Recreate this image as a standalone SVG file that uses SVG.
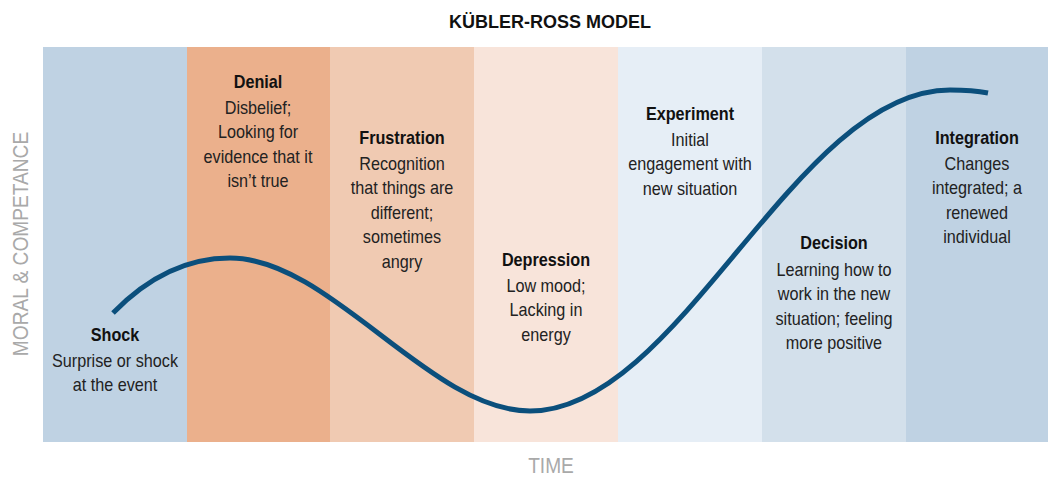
<svg xmlns="http://www.w3.org/2000/svg" width="1060" height="483" viewBox="0 0 1060 483">
<style>
text{font-family:"Liberation Sans",Arial,sans-serif;text-anchor:middle}
.h{font-weight:bold;font-size:18px;fill:#111}
.b{font-size:18px;fill:#222}
.ax{font-size:22px;fill:#a9a9a9}
.curve{fill:none;stroke:#0b4f7c;stroke-width:5;stroke-linecap:butt}
</style>
<rect width="1060" height="483" fill="#fff"/>
<text x="550" y="28" class="h">KÜBLER-ROSS MODEL</text>
<g id="bands">
<rect x="43" y="47" width="144" height="395" fill="#bfd2e3"/>
<rect x="187" y="47" width="143" height="395" fill="#ebb08c"/>
<rect x="330" y="47" width="144" height="395" fill="#f0cab2"/>
<rect x="474" y="47" width="144" height="395" fill="#f8e4da"/>
<rect x="618" y="47" width="144" height="395" fill="#e6eef6"/>
<rect x="762" y="47" width="144" height="395" fill="#d3e0eb"/>
<rect x="906" y="47" width="142" height="395" fill="#bfd2e3"/>
</g>
<g id="connectors">
<path class="curve" d="M113,313 C150,275 190,258 230,258 C330,258 430,411 530,411 C680,411 795,90 950,90 C968,90 978,91 988,93"/>
</g>
<g id="shock" transform="translate(115 0) scale(0.9 1)">
<text y="341" class="h">Shock</text>
<text class="b"><tspan x="0" y="367">Surprise or shock</tspan><tspan x="0" y="391">at the event</tspan></text>
</g>
<g id="denial" transform="translate(258 0) scale(0.9 1)">
<text y="88" class="h">Denial</text>
<text class="b"><tspan x="0" y="114">Disbelief;</tspan><tspan x="0" y="138.5">Looking for</tspan><tspan x="0" y="163">evidence that it</tspan><tspan x="0" y="187.5">isn’t true</tspan></text>
</g>
<g id="frustration" transform="translate(402 0) scale(0.9 1)">
<text y="144" class="h">Frustration</text>
<text class="b"><tspan x="0" y="170">Recognition</tspan><tspan x="0" y="194.5">that things are</tspan><tspan x="0" y="219">different;</tspan><tspan x="0" y="243.5">sometimes</tspan><tspan x="0" y="268">angry</tspan></text>
</g>
<g id="depression" transform="translate(546 0) scale(0.9 1)">
<text y="266" class="h">Depression</text>
<text class="b"><tspan x="0" y="292">Low mood;</tspan><tspan x="0" y="316.5">Lacking in</tspan><tspan x="0" y="341">energy</tspan></text>
</g>
<g id="experiment" transform="translate(690 0) scale(0.9 1)">
<text y="120" class="h">Experiment</text>
<text class="b"><tspan x="0" y="146">Initial</tspan><tspan x="0" y="170.5">engagement with</tspan><tspan x="0" y="195">new situation</tspan></text>
</g>
<g id="decision" transform="translate(834 0) scale(0.9 1)">
<text y="249" class="h">Decision</text>
<text class="b"><tspan x="0" y="276">Learning how to</tspan><tspan x="0" y="300.5">work in the new</tspan><tspan x="0" y="325">situation; feeling</tspan><tspan x="0" y="349.5">more positive</tspan></text>
</g>
<g id="integration" transform="translate(977 0) scale(0.9 1)">
<text y="144" class="h">Integration</text>
<text class="b"><tspan x="0" y="170">Changes</tspan><tspan x="0" y="194.5">integrated; a</tspan><tspan x="0" y="219">renewed</tspan><tspan x="0" y="243.5">individual</tspan></text>
</g>
<g id="axes">
<g transform="translate(551 473) scale(0.87 1)"><text class="ax" x="0" y="0">TIME</text></g>
<g transform="translate(28 244) rotate(-90) scale(0.87 1)"><text class="ax" x="0" y="0">MORAL &amp; COMPETANCE</text></g>
</g>
</svg>
